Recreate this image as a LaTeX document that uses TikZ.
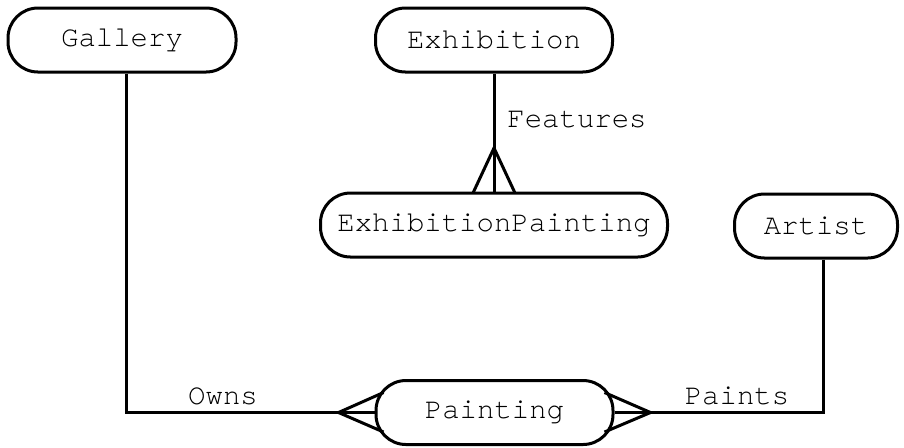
\documentclass[tikz,border=0pt]{standalone}
\usepackage{fontspec}
\setmonofont{TeX Gyre Cursor}
\usetikzlibrary{calc}
\begin{document}
\begin{tikzpicture}[x=0.5pt,y=-0.5pt,
  entity/.style={draw, line width=1.5pt, rounded corners=15pt, minimum height=32pt, inner sep=0pt, font=\ttfamily\fontsize{14.5}{16}\selectfont},
  lbl/.style={inner sep=0pt, font=\ttfamily\fontsize{14.5}{16}\selectfont},
  conn/.style={line width=1.5pt}]
\useasboundingbox (0,0) rectangle (904,447);
\node[entity, minimum width=114pt] (gallery) at (122,40) {Gallery};
\node[entity, minimum width=118.5pt] (exhibition) at (494,40) {Exhibition};
\node[entity, minimum width=173.5pt] (exhpainting) at (494,225) {ExhibitionPainting};
\node[entity, minimum width=81.5pt] (artist) at (816,226) {Artist};
\node[entity, minimum width=118.5pt] (painting) at (494.5,412.5) {Painting};
% Gallery owns Painting
\draw[conn] ([xshift=2pt]gallery.south) |- (painting.west);
\draw[conn] ($(painting.center)+(-111,-20)$) -- ($(painting.center)+(-156,0)$) -- ($(painting.center)+(-111,19.5)$);
\node[lbl] (owns) at (223,396) {Owns};
% Artist paints Painting
\draw[conn] ([xshift=3.5pt]artist.south) |- (painting.east);
\draw[conn] ($(painting.center)+(110,-20)$) -- ($(painting.center)+(156,0)$) -- ($(painting.center)+(110,19.5)$);
\node[lbl] (paints) at (737,396) {Paints};
% Exhibition features ExhibitionPainting
\draw[conn] (exhibition.south) -- (exhpainting.north);
\draw[conn] ($(exhpainting.center)+(-21,-32)$) -- ($(exhpainting.center)+(0,-77)$) -- ($(exhpainting.center)+(21,-32)$);
\node[lbl, anchor=west] (features) at (507,120) {Features};
\end{tikzpicture}
\end{document}
